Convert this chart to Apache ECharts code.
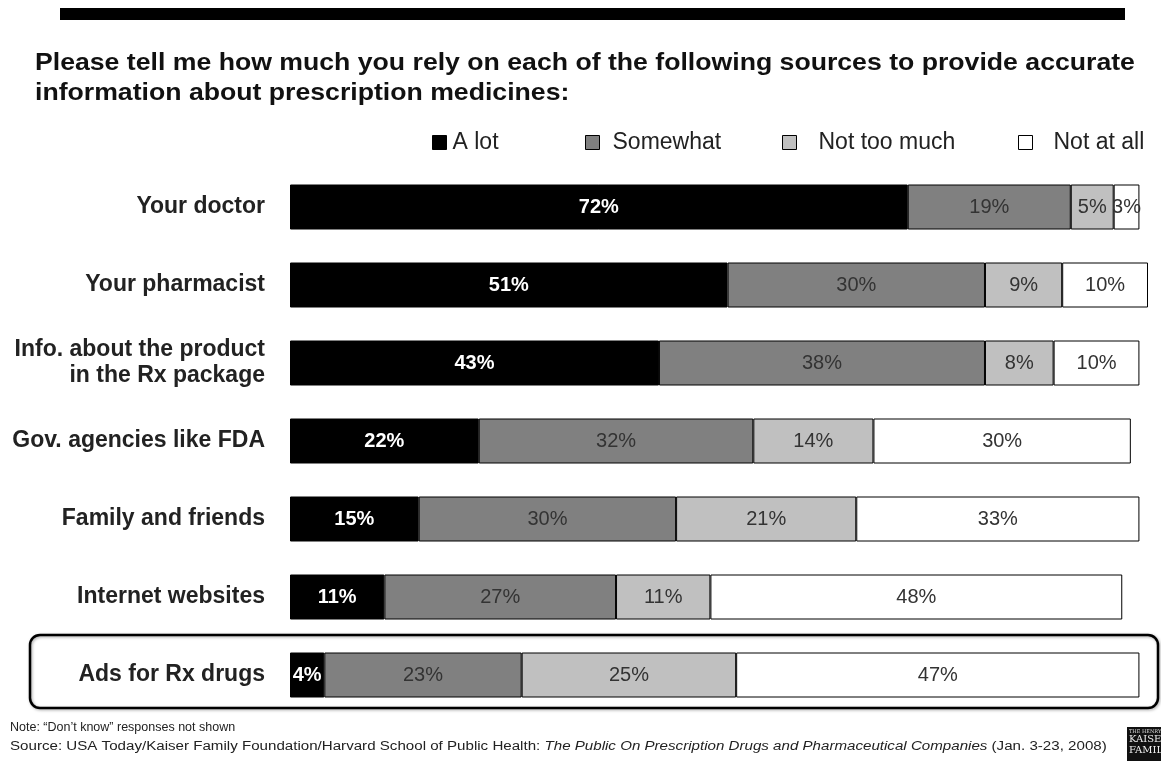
<!DOCTYPE html>
<html>
<head>
<meta charset="utf-8">
<script src="https://cdn.jsdelivr.net/npm/echarts@6/dist/echarts.min.js"></script>
<style>
  html, body { margin: 0; padding: 0; background: #fff; }
  #chart { width: 1161px; height: 761px; }
</style>
</head>
<body>
<div id="chart"></div>
<script>
// Survey sources, top to bottom
const categories = [
  'Your doctor',
  'Your pharmacist',
  'Info. about the product\nin the Rx package',
  'Gov. agencies like FDA',
  'Family and friends',
  'Internet websites',
  'Ads for Rx drugs'
];
const seriesNames = ['A lot', 'Somewhat', 'Not too much', 'Not at all'];
const aLot       = [72, 51, 43, 22, 15, 11, 4];
const somewhat   = [19, 30, 38, 32, 30, 27, 23];
const notTooMuch = [5, 9, 8, 14, 21, 11, 25];
const notAtAll   = [3, 10, 10, 30, 33, 48, 47];

const titleLines = [
  'Please tell me how much you rely on each of the following sources to provide accurate',
  'information about prescription medicines:'
];
const noteText = 'Note: \u201cDon\u2019t know\u201d responses not shown';
const sourcePlain = 'Source: USA Today/Kaiser Family Foundation/Harvard School of Public Health: ';
const sourceItalic = 'The Public On Prescription Drugs and Pharmaceutical Companies';
const sourceTail = ' (Jan. 3-23, 2008)';

const fills = ['#000000', '#808080', '#c0c0c0', '#ffffff'];
const labelColors = ['#ffffff', '#333333', '#333333', '#333333'];
const values = [aLot, somewhat, notTooMuch, notAtAll];

const FONT = '"Liberation Sans", Arial, sans-serif';

const chart = echarts.init(document.getElementById('chart'), null, { renderer: 'canvas' });

const series = seriesNames.map((name, i) => ({
  name: name,
  type: 'bar',
  stack: 'total',
  barWidth: 45,
  data: values[i],
  itemStyle: { color: fills[i], borderColor: '#000', borderWidth: 1 },
  label: {
    show: true,
    position: 'inside',
    formatter: '{c}%',
    color: labelColors[i],
    fontFamily: FONT,
    fontSize: 20,
    fontWeight: i === 0 ? 'bold' : 'normal'
  },
  emphasis: { disabled: true }
}));

// one legend block per series so each entry sits at its own spot
const legendLeft = [432, 585, 782, 1018];
const legendPad = [1, 8, 17, 16];
const legends = seriesNames.map((name, i) => ({
  data: [name],
  left: legendLeft[i],
  top: 131,
  padding: 0,
  icon: 'rect',
  itemWidth: 14,
  itemHeight: 14,
  itemStyle: { borderColor: '#000', borderWidth: 1 },
  selectedMode: false,
  textStyle: {
    fontFamily: FONT,
    fontSize: 23,
    color: '#222',
    padding: [0, 0, 0, legendPad[i]]
  }
}));

const option = {
  animation: false,
  backgroundColor: '#fff',
  legend: legends,
  grid: { left: 290, right: 13, top: 168, bottom: 47, containLabel: false },
  xAxis: {
    type: 'value', min: 0, max: 100,
    show: false
  },
  yAxis: {
    type: 'category',
    data: categories,
    inverse: true,
    axisLine: { show: false },
    axisTick: { show: false },
    splitLine: { show: false },
    axisLabel: {
      margin: 25,
      fontFamily: FONT,
      fontSize: 23,
      fontWeight: 'bold',
      color: '#222',
      lineHeight: 26,
      align: 'right'
    }
  },
  series: series,
  graphic: [
    { type: 'rect', shape: { x: 60, y: 8, width: 1065, height: 12 }, style: { fill: '#000' }, z: 10 },
    {
      type: 'text', x: 35, y: 48, scaleX: 1.11,
      style: {
        text: titleLines.join('\n'),
        font: 'bold 24px ' + FONT,
        lineHeight: 30,
        fill: '#111'
      }
    },
    {
      type: 'rect',
      shape: { x: 30, y: 635, width: 1128, height: 73, r: 10 },
      style: { fill: 'none', stroke: '#000', lineWidth: 2.5, shadowBlur: 3, shadowColor: 'rgba(0,0,0,0.35)', shadowOffsetX: 1, shadowOffsetY: 1 },
      z: 100, silent: true
    },
    {
      type: 'text', x: 10, y: 721,
      style: { text: noteText, font: '12.5px ' + FONT, fill: '#222' }
    },
    {
      type: 'text', x: 10, y: 741, scaleX: 1.26,
      style: {
        text: '{a|' + sourcePlain + '}{b|' + sourceItalic + '}{a|' + sourceTail + '}',
        rich: {
          a: { font: '12px ' + FONT, fill: '#222' },
          b: { font: 'italic 12px ' + FONT, fill: '#222' }
        }
      }
    },
    { type: 'rect', shape: { x: 1127, y: 727, width: 34, height: 34 }, style: { fill: '#111' } },
    {
      type: 'text', x: 1129, y: 729,
      style: {
        text: 'THE HENRY J.\n{k|KAISER}\n{k|FAMILY}',
        font: '5px "DejaVu Serif", serif',
        fill: '#ddd',
        rich: { k: { font: '10px "DejaVu Serif", serif', fill: '#eee', lineHeight: 11 } }
      }
    }
  ]
};

chart.setOption(option);
</script>
</body>
</html>
